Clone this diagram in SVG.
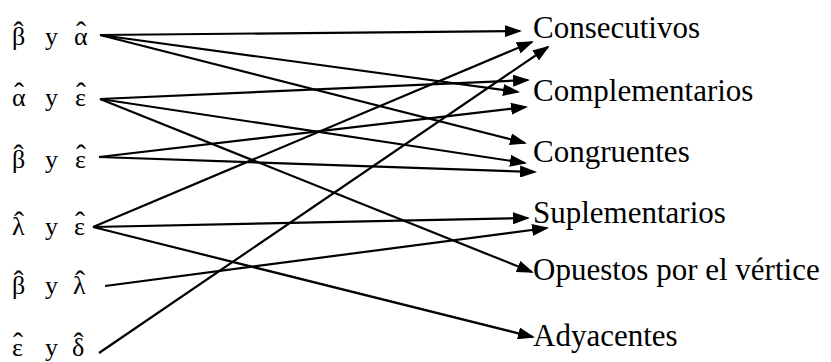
<svg xmlns="http://www.w3.org/2000/svg" width="831" height="362" viewBox="0 0 831 362">
<style>
text{font-family:'Liberation Serif','Times New Roman',serif;fill:#000}
.lbl{font-size:31px}
.src{font-size:26px}
.hat{font-size:30px;text-anchor:middle}
.c{stroke:#000;stroke-width:2.2;fill:none;marker-end:url(#ah)}
</style>
<defs>
<marker id="ah" markerUnits="userSpaceOnUse" markerWidth="17" markerHeight="12" refX="15" refY="6" orient="auto">
<path d="M0,0 L17,6 L0,12 z" fill="#000"/>
</marker>
</defs>
<g id="s1"><text class="src" y="45"><tspan x="12">β</tspan><tspan x="45">y</tspan><tspan x="74">α</tspan></text><text class="hat" y="42"><tspan x="18.5">ˆ</tspan><tspan x="81">ˆ</tspan></text></g>
<g id="s2"><text class="src" y="106"><tspan x="12">α</tspan><tspan x="45">y</tspan><tspan x="75">ε</tspan></text><text class="hat" y="103"><tspan x="19">ˆ</tspan><tspan x="81">ˆ</tspan></text></g>
<g id="s3"><text class="src" y="168"><tspan x="12">β</tspan><tspan x="45">y</tspan><tspan x="75">ε</tspan></text><text class="hat" y="165"><tspan x="18.5">ˆ</tspan><tspan x="81">ˆ</tspan></text></g>
<g id="s4"><text class="src" y="235"><tspan x="12">λ</tspan><tspan x="45">y</tspan><tspan x="74">ε</tspan></text><text class="hat" y="232"><tspan x="19">ˆ</tspan><tspan x="80">ˆ</tspan></text></g>
<g id="s5"><text class="src" y="294"><tspan x="12">β</tspan><tspan x="45">y</tspan><tspan x="73">λ</tspan></text><text class="hat" y="291"><tspan x="18.5">ˆ</tspan><tspan x="80">ˆ</tspan></text></g>
<g id="s6"><text class="src" y="356"><tspan x="12">ε</tspan><tspan x="45">y</tspan><tspan x="72">δ</tspan></text><text class="hat" y="353"><tspan x="18">ˆ</tspan><tspan x="78.5">ˆ</tspan></text></g>
<g id="t1"><text class="lbl" x="533" y="38">Consecutivos</text></g>
<g id="t2"><text class="lbl" x="533" y="101">Complementarios</text></g>
<g id="t3"><text class="lbl" x="533" y="162">Congruentes</text></g>
<g id="t4"><text class="lbl" x="533" y="223">Suplementarios</text></g>
<g id="t5"><text class="lbl" x="533" y="280">Opuestos por el vértice</text></g>
<g id="t6"><text class="lbl" x="533" y="346">Adyacentes</text></g>
<g id="connectors">
<line class="c" x1="100" y1="35" x2="520" y2="31"/>
<line class="c" x1="100" y1="35" x2="518" y2="92"/>
<line class="c" x1="100" y1="35" x2="525" y2="143"/>
<line class="c" x1="100" y1="99" x2="528" y2="80"/>
<line class="c" x1="100" y1="99" x2="525" y2="163"/>
<line class="c" x1="100" y1="99" x2="532" y2="272"/>
<line class="c" x1="99" y1="157" x2="526" y2="107"/>
<line class="c" x1="99" y1="157" x2="535" y2="172"/>
<line class="c" x1="93" y1="227" x2="532" y2="42"/>
<line class="c" x1="93" y1="227" x2="528" y2="218"/>
<line class="c" x1="93" y1="227" x2="533" y2="337"/>
<line class="c" x1="105" y1="286" x2="547" y2="228"/>
<line class="c" x1="99" y1="353" x2="548" y2="47"/>
</g>
</svg>
